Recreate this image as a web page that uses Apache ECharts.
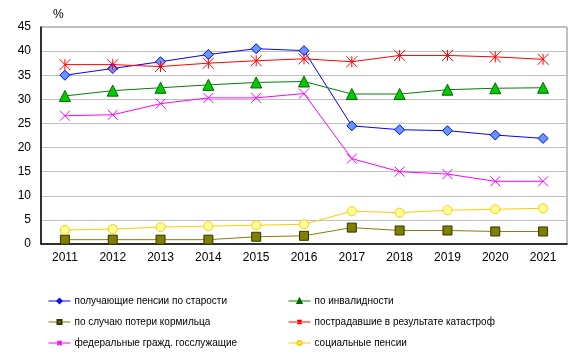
<!DOCTYPE html>
<html><head><meta charset="utf-8">
<script src="https://cdn.jsdelivr.net/npm/echarts@6/dist/echarts.min.js"></script>
<style>html,body{margin:0;padding:0;background:#fff}#c{width:581px;height:355px}</style>
</head><body><div id="c"></div>
<script>
const years = ['2011','2012','2013','2014','2015','2016','2017','2018','2019','2020','2021'];
const oldAge      = [35.0, 36.4, 37.8, 39.3, 40.5, 40.1, 24.5, 23.7, 23.5, 22.6, 21.9];
const disability  = [30.7, 31.8, 32.4, 33.0, 33.5, 33.7, 31.1, 31.1, 32.0, 32.3, 32.4];
const breadwinner = [0.9, 0.9, 0.9, 0.9, 1.5, 1.7, 3.4, 2.8, 2.8, 2.6, 2.6];
const catastrophe = [37.2, 37.2, 36.8, 37.5, 38.0, 38.4, 37.8, 39.1, 39.1, 38.8, 38.3];
const federal     = [26.6, 26.8, 29.1, 30.3, 30.3, 31.2, 17.7, 15.0, 14.5, 13.0, 13.0];
const social      = [2.9, 3.1, 3.5, 3.7, 3.9, 4.1, 6.8, 6.5, 7.0, 7.2, 7.4];
const yTicks = [0,5,10,15,20,25,30,35,40,45];

const names = {
  oldAge:'получающие пенсии по старости',
  disability:'по инвалидности',
  breadwinner:'по случаю потери кормильца',
  catastrophe:'пострадавшие в результате катастроф',
  federal:'федеральные гражд. госслужащие',
  social:'социальные пенсии'
};
const star = 'path://M5,0L5,10M0,0L10,10M10,0L0,10';
const cross = 'path://M0,0L10,10M10,0L0,10';
function s(name, data, line, symbol, size, fill, border){
  return {name, type:'line', data, symbol, symbolSize:size,
    lineStyle:{color:line,width:1}, itemStyle:{color:fill,borderColor:border,borderWidth:1},
    emphasis:{disabled:true}, animation:false};
}
const F = 'Liberation Sans, Arial, sans-serif';
const legendCommon = {orient:'vertical',top:291,itemWidth:22,itemHeight:5,itemGap:11,
  lineStyle:{width:1},
  textStyle:{fontFamily:F,fontSize:10,color:'#000',padding:[0,0,0,-1]}};
const chart = echarts.init(document.getElementById('c'));
chart.setOption({
  animation:false,
  grid:{left:41,right:14,top:27,bottom:111,show:true,borderColor:'#808080',borderWidth:1},
  title:{text:'%',left:48,top:4,textStyle:{fontFamily:F,fontSize:12,fontWeight:'normal',color:'#000'}},
  xAxis:{type:'category',data:years,boundaryGap:true,
    axisLine:{lineStyle:{color:'#000',width:1.5}},axisTick:{show:false},
    axisLabel:{fontFamily:F,fontSize:12,color:'#000',margin:8}},
  yAxis:{type:'value',min:0,max:45,interval:5,
    axisLine:{show:true,lineStyle:{color:'#000',width:1.5}},axisTick:{show:false},
    splitLine:{lineStyle:{color:'#c0c0c0'}},
    axisLabel:{fontFamily:F,fontSize:12,color:'#000',margin:10,formatter:v=>yTicks.includes(v)?String(v):''}},
  legend:[
    Object.assign({left:43,data:[names.oldAge,names.breadwinner,names.federal]}, legendCommon),
    Object.assign({left:283,data:[names.disability,names.catastrophe,names.social]}, legendCommon)
  ],
  series:[
    s(names.oldAge, oldAge, '#0000ff', 'diamond', 10, '#6699ff', '#0000ff'),
    s(names.disability, disability, '#008000', 'triangle', 11, '#00cc00', '#006600'),
    s(names.breadwinner, breadwinner, '#808000', 'rect', 9, '#808000', '#333300'),
    s(names.catastrophe, catastrophe, '#ff0000', star, 11, '#ff0000', '#ff0000'),
    s(names.federal, federal, '#ff00ff', cross, 10, '#ff00ff', '#ff00ff'),
    s(names.social, social, '#ffcc00', 'circle', 9, '#ffff99', '#ffcc00')
  ]
});
</script></body></html>
